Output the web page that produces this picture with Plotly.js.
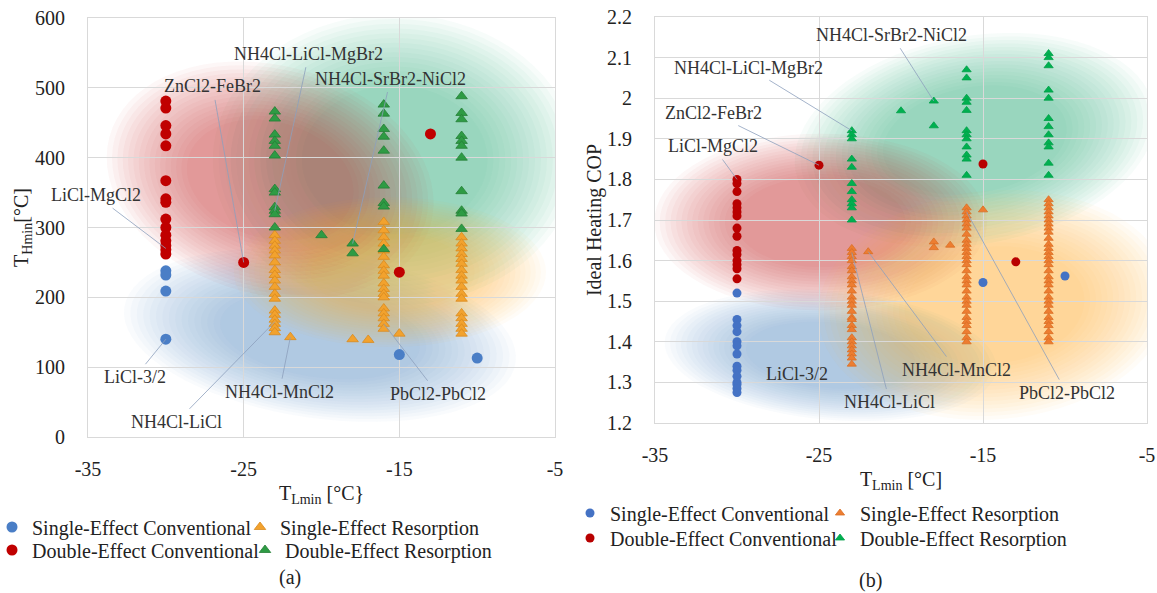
<!DOCTYPE html>
<html><head><meta charset="utf-8">
<script src="https://cdn.plot.ly/plotly-3.0.1.min.js"></script>
<style>html,body{margin:0;padding:0;background:#fff}#chart{width:1157px;height:593px}</style>
</head><body><div id="chart"></div>
<script>
// ---------- (a) T_Hmin vs T_Lmin ----------
const A_SEC_x = [-30,-30,-30,-30,-15,-10];
const A_SEC_y = [238,232,209,140,118,113];
const A_DEC_m30 = [481,471,446,434,417,367,341,336,312,300,289,281,274,268,262];
const A_DEC_ox = [-25,-15,-13];
const A_DEC_oy = [250,236,434];
const A_SER_m23 = [289,281,274,267,260,250,239,232,224,215,205,198,181,175,168,162,156,150];
const A_SER_m16 = [308,296,286,277,267,258,246,238,231,220,212,205,200,184,177,170,162,155];
const A_SER_m11 = [286,277,270,262,255,248,239,231,224,215,205,198,177,170,162,155,148];
const A_SER_ox = [-22,-18,-17,-15];
const A_SER_oy = [143,140,139,148];
const A_DER_m23 = [466,456,433,424,417,403,355,350,329,324,319,300];
const A_DER_m16 = [476,463,441,430,410,360,335,330,269];
const A_DER_m11 = [488,464,455,431,424,417,400,352,324,320,298];
const A_DER_ox = [-20,-18,-18];
const A_DER_oy = [289,277,263];

// ---------- (b) Ideal heating COP vs T_Lmin ----------
const B_SEC_m30 = [1.52,1.455,1.44,1.425,1.40,1.39,1.37,1.34,1.33,1.315,1.30,1.295,1.285,1.275];
const B_SEC_ox = [-15,-10];
const B_SEC_oy = [1.546,1.562];
const B_DEC_m30 = [1.80,1.79,1.77,1.74,1.73,1.72,1.71,1.68,1.66,1.625,1.615,1.60,1.59,1.58,1.555];
const B_DEC_ox = [-25,-15,-13];
const B_DEC_oy = [1.835,1.838,1.597];
const B_SER_m23 = [1.63,1.62,1.61,1.60,1.585,1.575,1.56,1.55,1.54,1.525,1.51,1.50,1.49,1.475,1.46,1.455,1.44,1.43,1.41,1.40,1.39,1.38,1.37,1.36,1.345];
const B_SER_m16 = [1.73,1.72,1.71,1.70,1.69,1.68,1.665,1.65,1.64,1.63,1.62,1.61,1.60,1.59,1.575,1.56,1.55,1.54,1.525,1.51,1.50,1.49,1.475,1.46,1.45,1.44,1.425,1.41,1.40];
const B_SER_m11 = [1.75,1.74,1.73,1.72,1.71,1.70,1.69,1.68,1.67,1.655,1.64,1.63,1.62,1.61,1.60,1.59,1.575,1.56,1.55,1.54,1.525,1.51,1.50,1.49,1.475,1.46,1.45,1.44,1.425,1.41,1.40];
const B_SER_ox = [-22,-18,-18,-17,-15];
const B_SER_oy = [1.622,1.646,1.632,1.638,1.725];
const B_DER_m23 = [1.92,1.91,1.90,1.85,1.83,1.79,1.77,1.75,1.74,1.73,1.70];
const B_DER_m16 = [2.07,2.05,2.00,1.99,1.97,1.92,1.91,1.90,1.88,1.86,1.85,1.81];
const B_DER_m11 = [2.11,2.10,2.08,2.02,2.00,1.95,1.93,1.91,1.89,1.88,1.84,1.81];
const B_DER_ox = [-20,-18,-18];
const B_DER_oy = [1.969,1.993,1.932];

const SERIES_NAMES = ['Single-Effect Conventional','Single-Effect Resorption','Double-Effect Conventional','Double-Effect Resorption'];
const X_TICKS = [-35,-25,-15,-5];
const X_TICK_TEXT = ['-35','-25','-15','-5'];

// labelled pairs: [text, x, y, dx(px), dy(px)]
const A_LABELS = [
  ['LiCl-MgCl2',-30,270,-70,-53],
  ['ZnCl2-FeBr2',-25,250,-31,-176],
  ['NH4Cl-LiCl-MgBr2',-23,324,34,-157],
  ['NH4Cl-SrBr2-NiCl2',-18,277,38,-165],
  ['LiCl-3/2',-30,140,-31,38],
  ['NH4Cl-LiCl',-23,165,-98,100],
  ['NH4Cl-MnCl2',-22,143,-11,55],
  ['PbCl2-PbCl2',-16,162,54,70]
];
const B_LABELS = [
  ['NH4Cl-SrBr2-NiCl2',-18,1.993,-42,-66],
  ['NH4Cl-LiCl-MgBr2',-23,1.92,-103,-63],
  ['ZnCl2-FeBr2',-25,1.835,-106,-52],
  ['LiCl-MgCl2',-30,1.80,-24,-33],
  ['LiCl-3/2',-30,1.52,60,81],
  ['NH4Cl-LiCl',-23,1.62,38,150],
  ['NH4Cl-MnCl2',-22,1.622,88,118],
  ['PbCl2-PbCl2',-16,1.72,100,181]
];

// shaded regions: [cx, cy, rxPx, ryPx, angleDeg, rgb]
const A_REGIONS = [
  [-20.1,146,190,80,8,'90,150,215'],
  [-15.3,397,175,140,0,'60,190,120'],
  [-23.3,368,160,110,15,'215,60,60'],
  [-15.6,236,150,72,0,'250,180,60']
];
const B_REGIONS = [
  [-24.3,1.367,160,62,5,'90,150,215'],
  [-15.5,1.897,175,100,-10,'60,190,120'],
  [-24.9,1.695,160,85,0,'215,60,60'],
  [-14.3,1.491,170,110,-5,'250,180,60']
];

// ---------- build ----------
const W = 1157, H = 593;
const PA = {l:88, r:555, t:18, b:437, xr:[-35,-5], yr:[0,600]};
const PB = {l:655, r:1147, t:17, b:423, xr:[-35,-5], yr:[1.2,2.2]};

function col(xv, arr){ return {x: arr.map(()=>xv), y: arr.slice()}; }
function join(parts){ const x=[],y=[]; parts.forEach(p=>{x.push(...p.x);y.push(...p.y);}); return {x,y}; }

const FONT = '"Liberation Serif", "Times New Roman", serif';
const A_COL = {sec:'#4A7EC6', dec:'#C00000', ser:'#F2A22E', serL:'#D98A1E', der:'#2E9B44', derL:'#247F36'};
const B_COL = {sec:'#4472C4', dec:'#B80000', ser:'#ED7D31', serL:'#D96E24', der:'#00B050', derL:'#00A048'};

const aSEC = {x:A_SEC_x, y:A_SEC_y};
const aDEC = join([col(-30,A_DEC_m30), {x:A_DEC_ox, y:A_DEC_oy}]);
const aSER = join([col(-23,A_SER_m23), col(-16,A_SER_m16), col(-11,A_SER_m11), {x:A_SER_ox, y:A_SER_oy}]);
const aDER = join([col(-23,A_DER_m23), col(-16,A_DER_m16), col(-11,A_DER_m11), {x:A_DER_ox, y:A_DER_oy}]);
const bSEC = join([col(-30,B_SEC_m30), {x:B_SEC_ox, y:B_SEC_oy}]);
const bDEC = join([col(-30,B_DEC_m30), {x:B_DEC_ox, y:B_DEC_oy}]);
const bSER = join([col(-23,B_SER_m23), col(-16,B_SER_m16), col(-11,B_SER_m11), {x:B_SER_ox, y:B_SER_oy}]);
const bDER = join([col(-23,B_DER_m23), col(-16,B_DER_m16), col(-11,B_DER_m11), {x:B_DER_ox, y:B_DER_oy}]);

function tr(d, name, xa, ya, sym, size, color, lcolor, legend){
  return {type:'scatter', mode:'markers', x:d.x, y:d.y, name:name, xaxis:xa, yaxis:ya, legend:legend,
    marker:{symbol:sym, size:size, color:color, line:{width: lcolor?0.8:0, color:lcolor||color}},
    hoverinfo:'x+y'};
}
const traces = [
  tr(aSEC, SERIES_NAMES[0], 'x','y','circle',11,A_COL.sec,null,'legend'),
  tr(aSER, SERIES_NAMES[1], 'x','y','triangle-up',10,A_COL.ser,A_COL.serL,'legend2'),
  tr(aDEC, SERIES_NAMES[2], 'x','y','circle',11,A_COL.dec,null,'legend3'),
  tr(aDER, SERIES_NAMES[3], 'x','y','triangle-up',10,A_COL.der,A_COL.derL,'legend4'),
  tr(bSEC, SERIES_NAMES[0], 'x2','y2','circle',9,B_COL.sec,null,'legend5'),
  tr(bSER, SERIES_NAMES[1], 'x2','y2','triangle-up',8,B_COL.ser,B_COL.serL,'legend6'),
  tr(bDEC, SERIES_NAMES[2], 'x2','y2','circle',9,B_COL.dec,null,'legend7'),
  tr(bDER, SERIES_NAMES[3], 'x2','y2','triangle-up',8,B_COL.der,B_COL.derL,'legend8')
];

function regionShapes(regs, P, xref, yref){
  const sx = (P.r-P.l)/(P.xr[1]-P.xr[0]);
  const sy = (P.b-P.t)/(P.yr[1]-P.yr[0]);
  const out = [];
  const N = 16;
  regs.forEach(r=>{
    const [cx,cy,rx,ry,ang,rgb] = r;
    const a = ang*Math.PI/180;
    for(let k=0;k<N;k++){
      const s = 1.04 - k*0.034;
      let p = '';
      for(let i=0;i<=72;i++){
        const t = i/72*2*Math.PI;
        const ux = rx*s*Math.cos(t), uy = ry*s*Math.sin(t);
        const px = ux*Math.cos(a) - uy*Math.sin(a);
        const py = ux*Math.sin(a) + uy*Math.cos(a);
        const dx = cx + px/sx, dy = cy - py/sy;
        p += (i===0?'M':'L') + dx.toFixed(4) + ',' + dy.toFixed(5);
      }
      p += 'Z';
      out.push({type:'path', path:p, xref:xref, yref:yref, layer:'below',
        fillcolor:'rgba('+rgb+',0.04)', line:{width:0}});
    }
  });
  return out;
}

function labelAnns(list, xref, yref){
  return list.map(l=>({text:l[0], x:l[1], y:l[2], xref:xref, yref:yref, ax:l[3], ay:l[4],
    showarrow:true, arrowhead:0, arrowwidth:0.8, arrowcolor:'#8DA0BC', standoff:0, startstandoff:2,
    font:{family:FONT, size:18, color:'#333333'}}));
}

const grid = '#D9D9D9';
function xax(P){
  return {domain:[P.l/W, P.r/W], range:P.xr, tickmode:'array', tickvals:X_TICKS, ticktext:X_TICK_TEXT,
    showgrid:true, gridcolor:grid, gridwidth:1, ticklabeloverflow:'allow',
    zeroline:false, showline:true, linecolor:grid, mirror:true, ticks:'', ticklabelstandoff:14,
    tickfont:{family:FONT, size:20, color:'#222'}, fixedrange:true};
}
function yax(P, dtick){
  return {domain:[1-P.b/H, 1-P.t/H], range:P.yr, dtick:dtick, tick0:P.yr[0], showgrid:true, gridcolor:grid, gridwidth:1,
    zeroline:false, showline:true, linecolor:grid, mirror:true, ticks:'', ticklabelstandoff:18,
    tickfont:{family:FONT, size:20, color:'#222'}, fixedrange:true};
}

const xa1 = xax(PA); xa1.anchor='y';
xa1.title = {text:'T<sub>Lmin</sub> [°C}', font:{family:FONT, size:20, color:'#222'}, standoff:6};
const ya1 = yax(PA,100); ya1.anchor='x';
ya1.title = {text:'T<sub>Hmin</sub>[°C]', font:{family:FONT, size:20, color:'#222'}, standoff:0};
const xa2 = xax(PB); xa2.anchor='y2';
xa2.title = {text:'T<sub>Lmin</sub> [°C]', font:{family:FONT, size:20, color:'#222'}, standoff:6};
const ya2 = yax(PB,0.1); ya2.anchor='x2';
ya2.title = {text:'Ideal Heating COP', font:{family:FONT, size:20, color:'#222'}, standoff:0};

function leg(xpx, ypx){
  return {x:xpx/W, y:1-ypx/H, xanchor:'left', yanchor:'middle', bgcolor:'rgba(0,0,0,0)',
    font:{family:FONT, size:20, color:'#222'}, itemclick:false, itemdoubleclick:false, tracegroupgap:0};
}

const layout = {
  width:W, height:H, paper_bgcolor:'#fff', plot_bgcolor:'rgba(0,0,0,0)',
  margin:{l:0,r:0,t:0,b:0,pad:0,autoexpand:false},
  font:{family:FONT, color:'#222'},
  showlegend:true,
  xaxis:xa1, yaxis:ya1, xaxis2:xa2, yaxis2:ya2,
  legend:leg(-8,527), legend2:leg(240,527), legend3:leg(-8,550), legend4:leg(245,550),
  legend5:leg(570,513), legend6:leg(820,513), legend7:leg(570,538), legend8:leg(820,538),
  shapes: regionShapes(A_REGIONS, PA, 'x','y').concat(regionShapes(B_REGIONS, PB, 'x2','y2')),
  annotations: labelAnns(A_LABELS,'x','y').concat(labelAnns(B_LABELS,'x2','y2')).concat([
    {text:'(a)', xref:'paper', yref:'paper', x:290/W, y:1-577/H, xanchor:'center', yanchor:'middle', showarrow:false, font:{family:FONT,size:20,color:'#222'}},
    {text:'(b)', xref:'paper', yref:'paper', x:870/W, y:1-580/H, xanchor:'center', yanchor:'middle', showarrow:false, font:{family:FONT,size:20,color:'#222'}}
  ])
};

Plotly.newPlot('chart', traces, layout, {displayModeBar:false, responsive:false});
</script></body></html>
